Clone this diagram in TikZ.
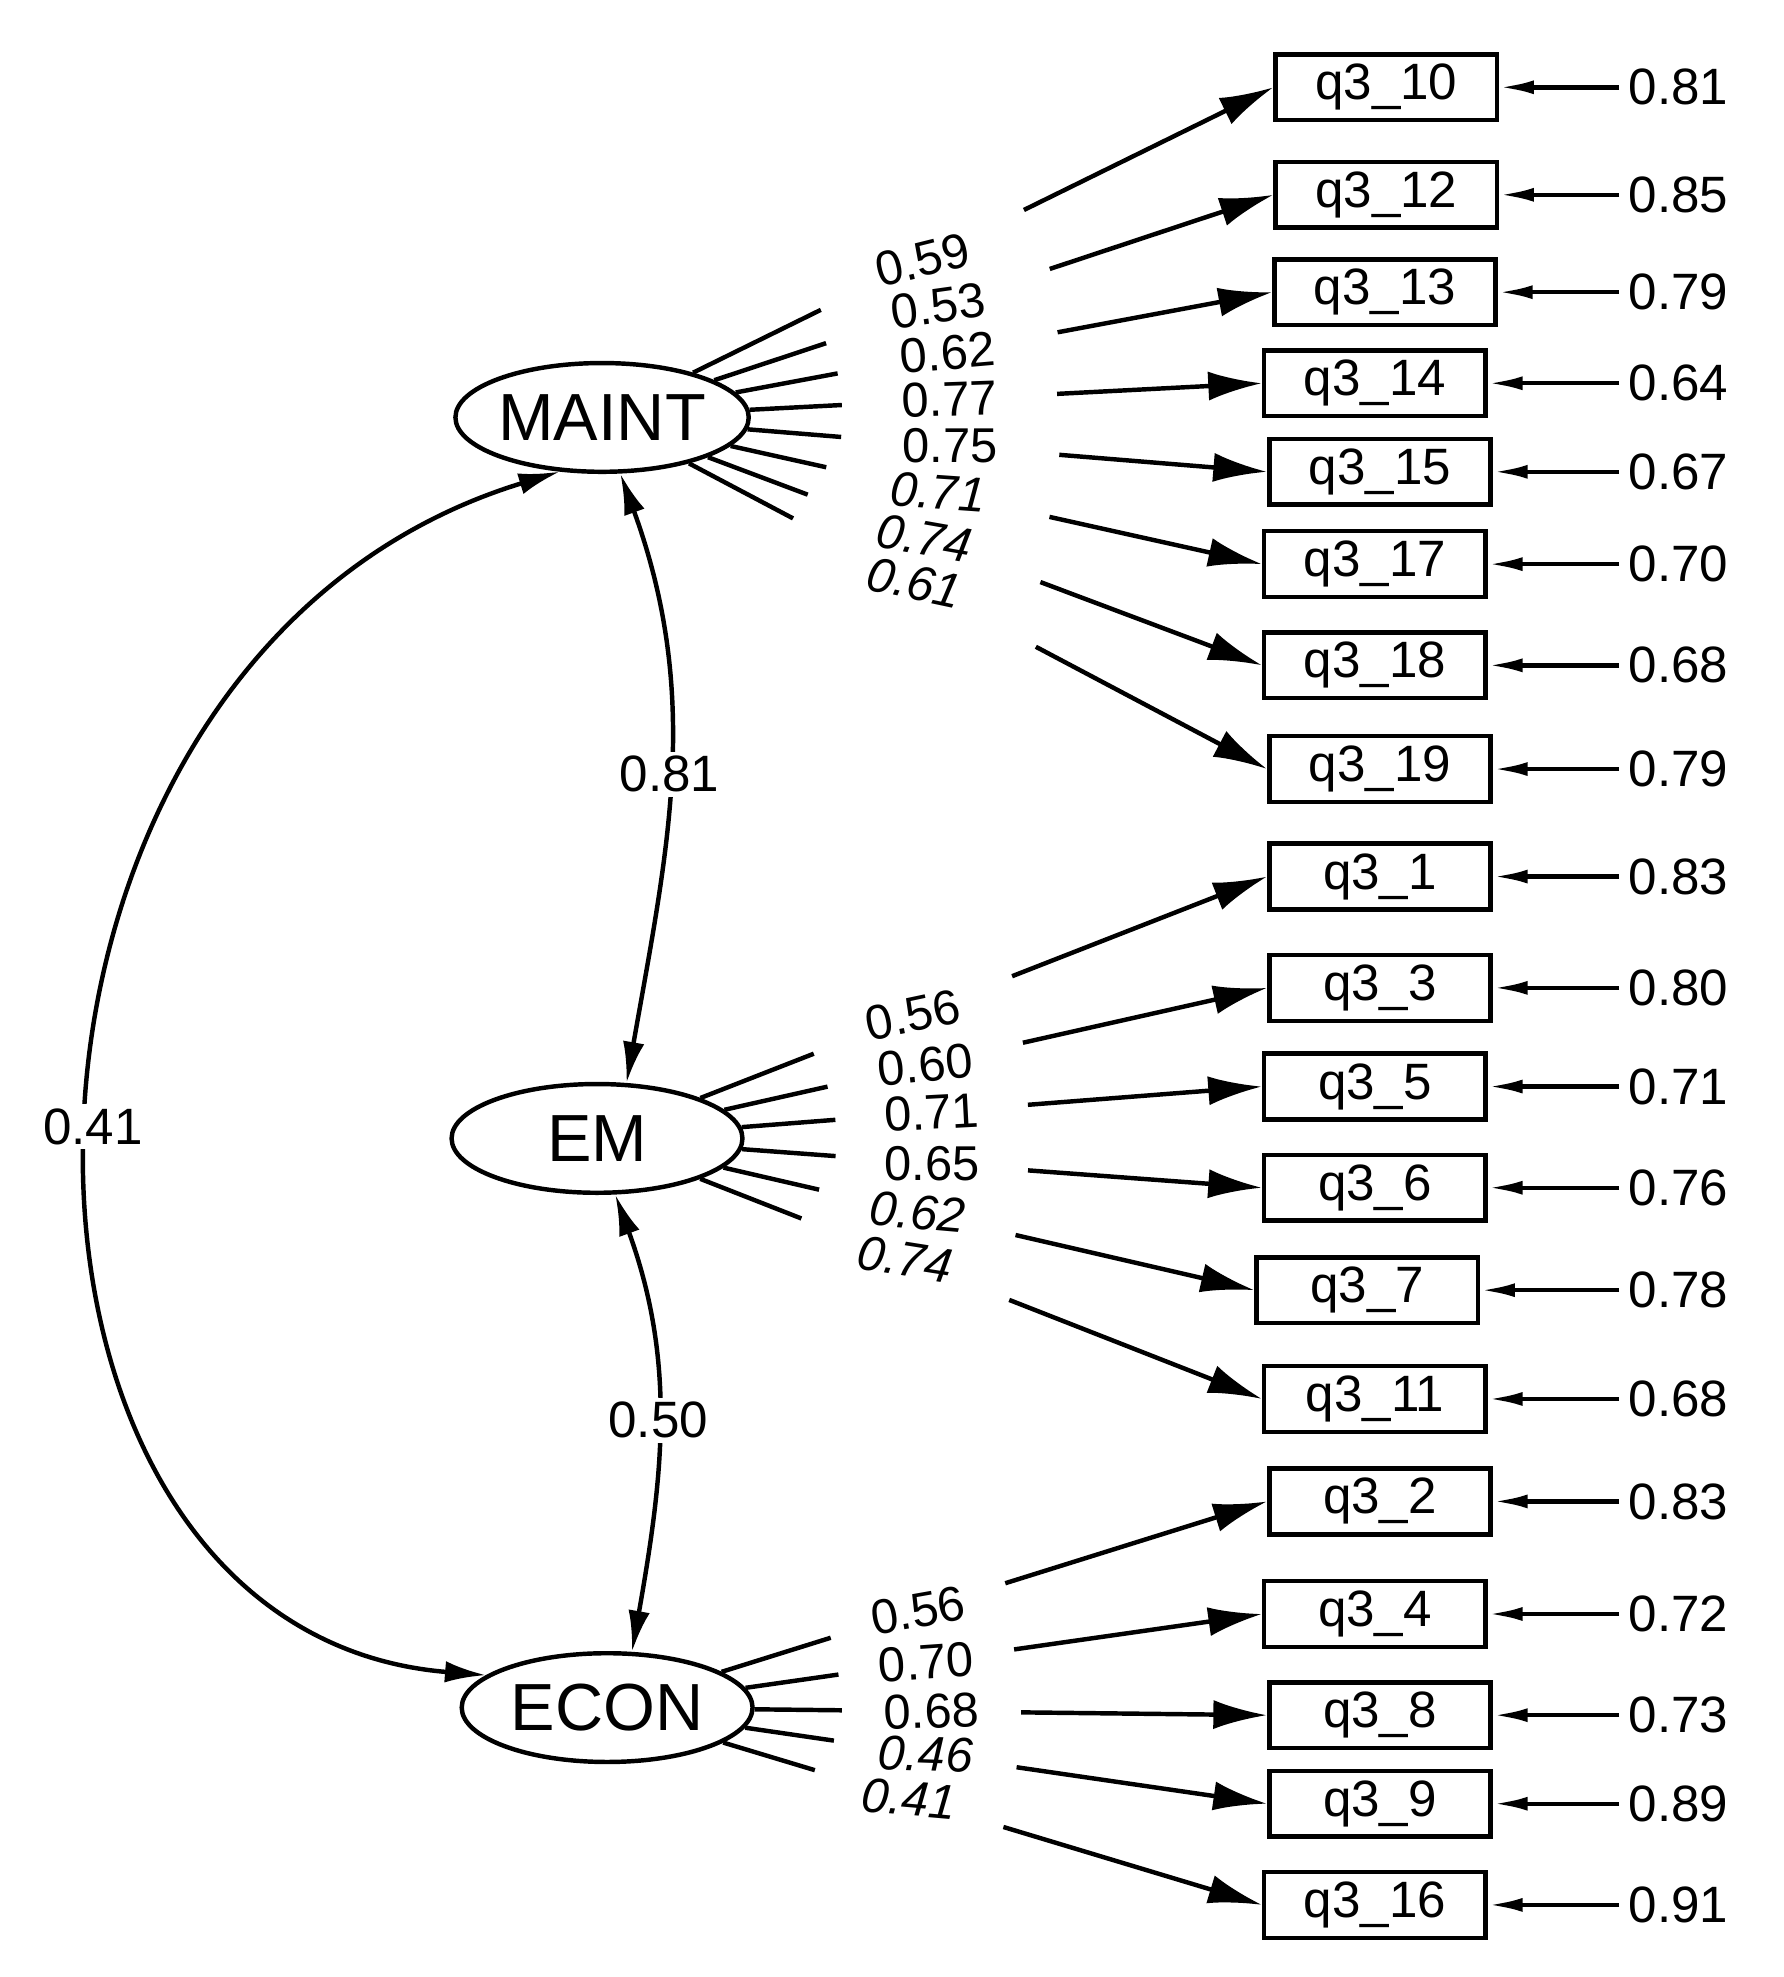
\documentclass[tikz,border=0pt]{standalone}
\usepackage{fontspec}
\setmainfont{Liberation Sans}
\usetikzlibrary{arrows.meta,calc,shapes.geometric}
\begin{document}
\begin{tikzpicture}[x=0.02cm,y=-0.02cm,line width=2pt,
  font=\fontsize{23}{27}\selectfont,
  box/.style={draw,minimum width=3.5cm,minimum height=1.04cm,inner sep=0pt},
  lat/.style={draw,ellipse,minimum width=4.6cm,minimum height=1.72cm,inner sep=0pt,font=\fontsize{30}{34}\selectfont},
  arr/.style={-{Latex[length=0.85cm,width=0.46cm]}},
  earr/.style={-{Latex[length=0.55cm,width=0.22cm]}},
  cov/.style={{Latex[length=0.65cm,width=0.34cm]}-{Latex[length=0.65cm,width=0.34cm]}}]
\useasboundingbox (0,0) rectangle (1410,1563);
\node[lat] (MAINT) at (476,330) {MAINT};
\node[lat] (EM) at (472,900) {EM};
\node[lat] (ECON) at (480,1350) {ECON};
\foreach \n/\x/\y/\t/\e in {
 b10/1096/69/q3\_10/0.81, b12/1096/154/q3\_12/0.85, b13/1095/231/q3\_13/0.79,
 b14/1087/303/q3\_14/0.64, b15/1091/373/q3\_15/0.67, b17/1087/446/q3\_17/0.70,
 b18/1087/526/q3\_18/0.68, b19/1091/608/q3\_19/0.79, b1/1091/693/q3\_1/0.83,
 b3/1091/781/q3\_3/0.80, b5/1087/859/q3\_5/0.71, b6/1087/939/q3\_6/0.76,
 b7/1081/1020/q3\_7/0.78, b11/1087/1106/q3\_11/0.68, b2/1091/1187/q3\_2/0.83,
 b4/1087/1276/q3\_4/0.72, b8/1091/1356/q3\_8/0.73, b9/1091/1426/q3\_9/0.89,
 b16/1087/1506/q3\_16/0.91}{
  \node[box] (\n) at (\x,\y) {\t};
  \node[anchor=west] (e\n) at (1280,\y) {\e};
  \draw[earr] (e\n.west) -- (\n.east);
}
\foreach \L/\b/\a/\c/\l/\r/\s in {
 MAINT/b10/0.22/0.57/0.59/14/\upshape, MAINT/b12/0.2/0.6/0.53/8/\upshape,
 MAINT/b13/0.19/0.6/0.62/5/\upshape, MAINT/b14/0.18/0.6/0.77/2/\upshape,
 MAINT/b15/0.18/0.6/0.75/0/\upshape, MAINT/b17/0.18/0.6/0.71/-4/\itshape,
 MAINT/b18/0.18/0.6/0.74/-10/\itshape, MAINT/b19/0.18/0.6/0.61/-12/\itshape,
 EM/b1/0.2/0.55/0.56/12/\upshape, EM/b3/0.19/0.55/0.60/6/\upshape,
 EM/b5/0.18/0.55/0.71/3/\upshape, EM/b6/0.18/0.55/0.65/0/\upshape,
 EM/b7/0.18/0.55/0.62/-5/\itshape, EM/b11/0.18/0.55/0.74/-9/\itshape,
 ECON/b2/0.2/0.52/0.56/10/\upshape, ECON/b4/0.18/0.52/0.70/4/\upshape,
 ECON/b8/0.17/0.52/0.68/2/\upshape, ECON/b9/0.17/0.52/0.46/-2/\itshape,
 ECON/b16/0.17/0.52/0.41/-5/\itshape}{
  \path (\L) -- (\b.west) coordinate[pos=\a] (s1) coordinate[pos=\c] (s2);
  \draw (\L) -- (s1);
  \draw[arr] (s2) -- (\b.west);
  \node[rotate=\r,inner sep=0pt,font=\fontsize{22}{26}\selectfont\s] at ($(s1)!0.5!(s2)$) {\l};
}
\draw[cov] (MAINT.-72) to[out=-70,in=80] node[pos=0.5,fill=white,inner sep=2pt] {0.81} (EM.62);
\draw[cov] (EM.-72) to[out=-70,in=80] node[pos=0.5,fill=white,inner sep=2pt] {0.50} (ECON.66);
\draw[cov] (MAINT.232) .. controls (-40,520) and (-40,1290) .. node[pos=0.5,fill=white,inner sep=2pt] {0.41} (ECON.165);
\end{tikzpicture}
\end{document}
